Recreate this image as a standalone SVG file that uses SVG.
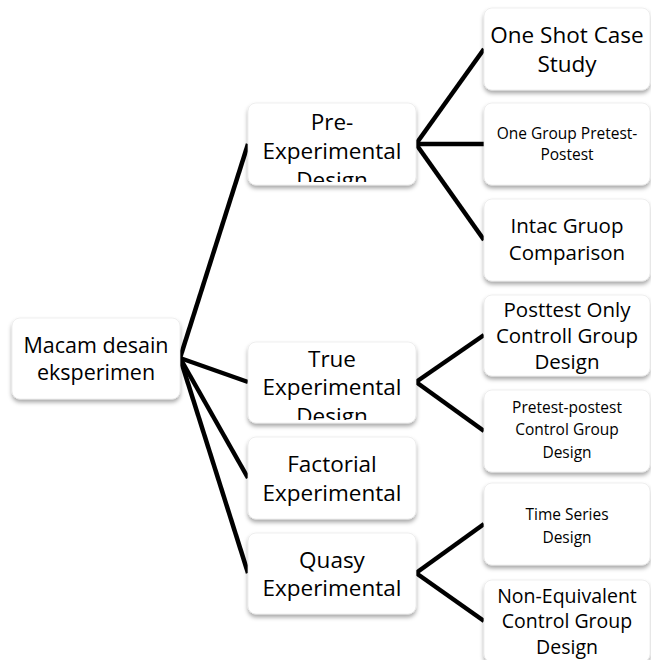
<svg xmlns="http://www.w3.org/2000/svg" width="651" height="660" viewBox="0 0 651 660">
<style>
.box{fill:#fff;stroke:#e4e4e4;stroke-width:0.6;filter:url(#sh)}
.t{font-family:"Open Sans","Liberation Sans",sans-serif;fill:#000;text-anchor:middle}
.l{font-size:22.5px}
.r{font-size:21.5px}
.m{font-size:20.5px}
.n{font-size:19.5px}
.s{font-size:15.5px}
.c line{stroke:#000;stroke-width:4.5;stroke-linecap:butt}
</style>
<defs>
<filter id="sh" x="-10%" y="-10%" width="120%" height="130%">
<feDropShadow dx="0" dy="3" stdDeviation="2" flood-color="#000" flood-opacity="0.35"/>
</filter>
<clipPath id="cpPre"><rect x="248" y="106" width="168" height="76"/></clipPath>
<clipPath id="cpTrue"><rect x="248" y="345" width="168" height="75"/></clipPath>
</defs>
<rect width="651" height="660" fill="#fff"/>
<g class="c" id="connectors">
<line x1="180" y1="358" x2="248" y2="144"/>
<line x1="180" y1="358" x2="248" y2="382"/>
<line x1="180" y1="358" x2="248" y2="478"/>
<line x1="180" y1="358" x2="248" y2="573"/>
<line x1="416" y1="144" x2="484" y2="49"/>
<line x1="416" y1="144" x2="484" y2="144"/>
<line x1="416" y1="144" x2="484" y2="240"/>
<line x1="416" y1="382" x2="484" y2="335"/>
<line x1="416" y1="382" x2="484" y2="431"/>
<line x1="416" y1="573" x2="484" y2="524"/>
<line x1="416" y1="573" x2="484" y2="621"/>
</g>
<g id="root">
<rect class="box" x="12" y="318" width="168" height="81" rx="8"/>
<text class="t r" x="96" y="353">Macam desain</text>
<text class="t r" x="96" y="380">eksperimen</text>
</g>
<g id="pre">
<rect class="box" x="248" y="103" width="168" height="82" rx="8"/>
<g clip-path="url(#cpPre)">
<text class="t l" x="332" y="130">Pre-</text>
<text class="t l" x="332" y="159">Experimental</text>
<text class="t l" x="332" y="188">Design</text>
</g>
</g>
<g id="true">
<rect class="box" x="248" y="342" width="168" height="81" rx="8"/>
<g clip-path="url(#cpTrue)">
<text class="t l" x="332" y="367">True</text>
<text class="t l" x="332" y="395">Experimental</text>
<text class="t l" x="332" y="424">Design</text>
</g>
</g>
<g id="factorial">
<rect class="box" x="248" y="437" width="168" height="82" rx="8"/>
<text class="t l" x="332" y="472">Factorial</text>
<text class="t l" x="332" y="501">Experimental</text>
</g>
<g id="quasy">
<rect class="box" x="248" y="533" width="168" height="81" rx="8"/>
<text class="t l" x="332" y="568">Quasy</text>
<text class="t l" x="332" y="596">Experimental</text>
</g>
<g id="oneshot">
<rect class="box" x="484" y="8" width="166" height="82" rx="8"/>
<text class="t l" x="567" y="43">One Shot Case</text>
<text class="t l" x="567" y="72">Study</text>
</g>
<g id="onegroup">
<rect class="box" x="484" y="103" width="166" height="82" rx="8"/>
<text class="t s" x="567" y="139">One Group Pretest-</text>
<text class="t s" x="567" y="160">Postest</text>
</g>
<g id="intac">
<rect class="box" x="484" y="199" width="166" height="82" rx="8"/>
<text class="t m" x="567" y="233">Intac Gruop</text>
<text class="t m" x="567" y="260">Comparison</text>
</g>
<g id="posttest">
<rect class="box" x="484" y="295" width="166" height="81" rx="8"/>
<text class="t m" x="567" y="317">Posttest Only</text>
<text class="t m" x="567" y="343">Controll Group</text>
<text class="t m" x="567" y="369">Design</text>
</g>
<g id="pretestpostest">
<rect class="box" x="484" y="390" width="166" height="82" rx="8"/>
<text class="t s" x="567" y="413">Pretest-postest</text>
<text class="t s" x="567" y="435">Control Group</text>
<text class="t s" x="567" y="458">Design</text>
</g>
<g id="timeseries">
<rect class="box" x="484" y="483" width="166" height="82" rx="8"/>
<text class="t s" x="567" y="520">Time Series</text>
<text class="t s" x="567" y="543">Design</text>
</g>
<g id="nonequivalent">
<rect class="box" x="484" y="580" width="166" height="82" rx="8"/>
<text class="t n" x="567" y="603">Non-Equivalent</text>
<text class="t n" x="567" y="628">Control Group</text>
<text class="t n" x="567" y="654">Design</text>
</g>
</svg>
